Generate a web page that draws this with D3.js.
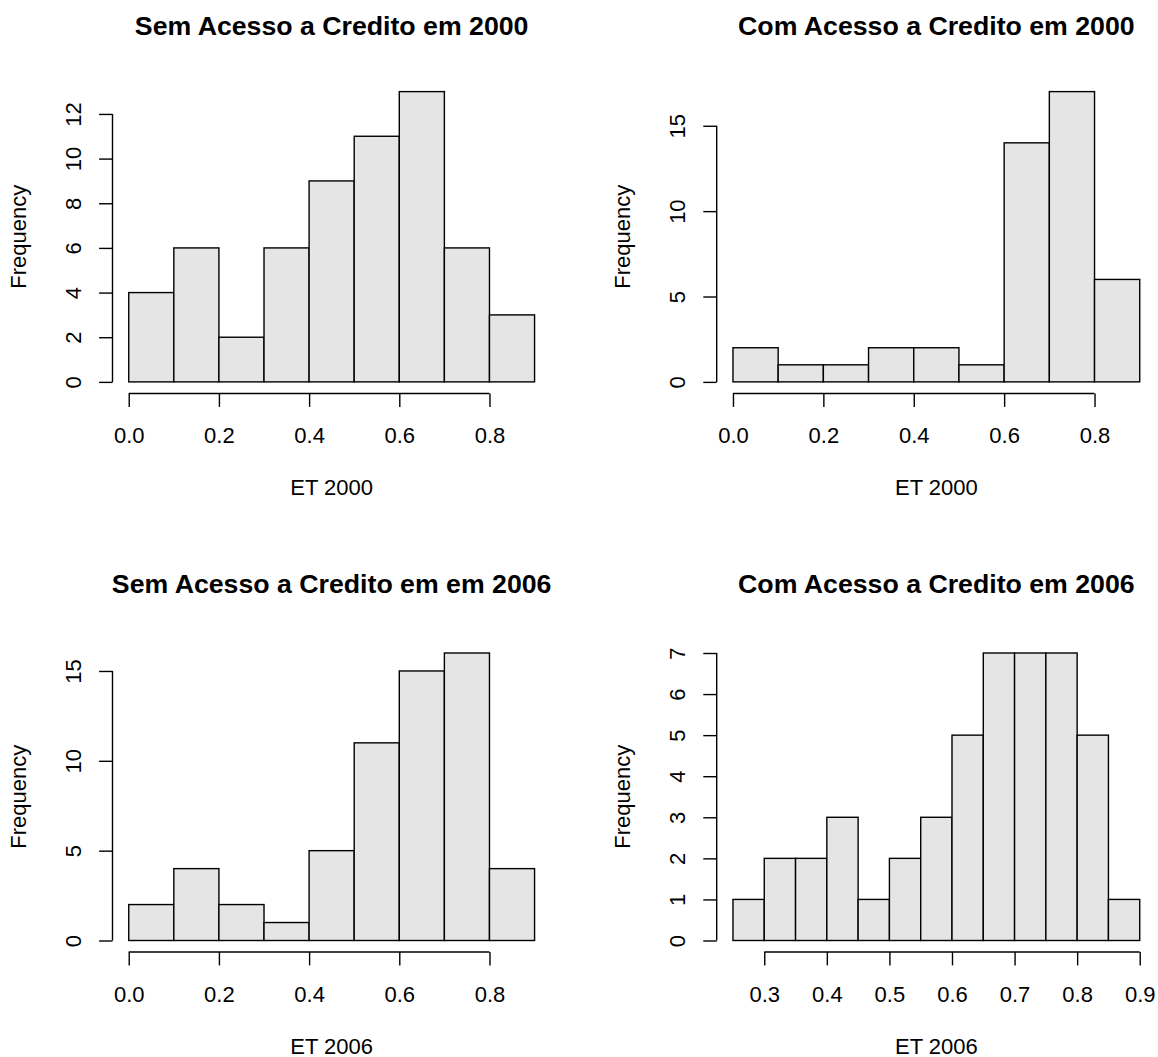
<!DOCTYPE html>
<html>
<head>
<meta charset="utf-8">
<script src="https://cdn.jsdelivr.net/npm/d3@7"></script>
<style>
  body { margin: 0; background: #fff; }
  svg { display: block; font-family: "Liberation Sans", Arial, sans-serif; }
</style>
</head>
<body>
<div id="chart"></div>
<script>
// Histogram data
var titles = [
    "Sem Acesso a Credito em 2000",
    "Com Acesso a Credito em 2000",
    "Sem Acesso a Credito em em 2006",
    "Com Acesso a Credito em 2006"
];
var xLabels = ["ET 2000", "ET 2000", "ET 2006", "ET 2006"];

// bin edges
var breaks2000 = [0, 0.1, 0.2, 0.3, 0.4, 0.5, 0.6, 0.7, 0.8, 0.9];
var breaksCom2006 = [0.25, 0.3, 0.35, 0.4, 0.45, 0.5, 0.55, 0.6, 0.65, 0.7, 0.75, 0.8, 0.85, 0.9];

// counts
var semCredito2000 = [4, 6, 2, 6, 9, 11, 13, 6, 3];
var comCredito2000 = [2, 1, 1, 2, 2, 1, 14, 17, 6];
var semCredito2006 = [2, 4, 2, 1, 5, 11, 15, 16, 4];
var comCredito2006 = [1, 2, 2, 3, 1, 2, 3, 5, 7, 7, 7, 5, 1];

// tick values
var xTicks2000 = [0, 0.2, 0.4, 0.6, 0.8];
var xTicksCom2006 = [0.3, 0.4, 0.5, 0.6, 0.7, 0.8, 0.9];
var yTicksSem2000 = [0, 2, 4, 6, 8, 10, 12];
var yTicks15 = [0, 5, 10, 15];
var yTicksCom2006 = [0, 1, 2, 3, 4, 5, 6, 7];

var width = 1158, height = 1057;

// plot regions (pixel boxes of each panel)
var panels = [
    { breaks: breaks2000, counts: semCredito2000, xt: xTicks2000, yt: yTicksSem2000, left: 112.5, right: 550.8, top: 80, bottom: 393.5, titleY: 35 },
    { breaks: breaks2000, counts: comCredito2000, xt: xTicks2000, yt: yTicks15, left: 716.7, right: 1156, top: 80, bottom: 393.5, titleY: 35 },
    { breaks: breaks2000, counts: semCredito2006, xt: xTicks2000, yt: yTicks15, left: 112.5, right: 550.8, top: 641.5, bottom: 952, titleY: 593 },
    { breaks: breaksCom2006, counts: comCredito2006, xt: xTicksCom2006, yt: yTicksCom2006, left: 716.7, right: 1156, top: 641.5, bottom: 952, titleY: 593 }
];

var svg = d3.select("#chart")
    .append("svg")
    .attr("width", width)
    .attr("height", height);

var tickFont = 22, titleFont = 26.7, tickLen = 13.4;

panels.forEach(function(p, i) {
    var bins = p.counts.map(function(c, j) {
        return { x0: p.breaks[j], x1: p.breaks[j + 1], n: c };
    });

    // R style 4% padding on both axes
    var xMin = p.breaks[0], xMax = p.breaks[p.breaks.length - 1];
    var xPad = (xMax - xMin) * 0.04;
    var yMax = d3.max(p.counts), yPad = yMax * 0.04;

    var x = d3.scaleLinear()
        .domain([xMin - xPad, xMax + xPad])
        .range([p.left, p.right]);

    var y = d3.scaleLinear()
        .domain([-yPad, yMax + yPad])
        .range([p.bottom, p.top]);

    var g = svg.append("g");

    // bars
    g.selectAll("rect")
        .data(bins)
        .enter().append("rect")
        .attr("x", d => x(d.x0))
        .attr("y", d => y(d.n))
        .attr("width", d => x(d.x1) - x(d.x0))
        .attr("height", d => y(0) - y(d.n))
        .attr("fill", "#e5e5e5")
        .attr("stroke", "#000")
        .attr("stroke-width", 1.4);

    // x axis, line only between first and last tick like R
    var xAxis = g.append("g")
        .attr("transform", `translate(0,${p.bottom})`)
        .call(d3.axisBottom(x).tickValues(p.xt).tickSize(tickLen).tickPadding(20.6)
            .tickFormat(d3.format(".1f")));
    xAxis.select(".domain")
        .attr("d", `M${x(p.xt[0])},0H${x(p.xt[p.xt.length - 1])}`);

    // y axis
    var yAxis = g.append("g")
        .attr("transform", `translate(${p.left},0)`)
        .call(d3.axisLeft(y).tickValues(p.yt).tickSize(tickLen).tickFormat(d3.format("d")));
    yAxis.select(".domain")
        .attr("d", `M0,${y(p.yt[0])}V${y(p.yt[p.yt.length - 1])}`);
    yAxis.selectAll("text")
        .attr("x", null).attr("dy", null)
        .attr("transform", "translate(-31.7,0) rotate(-90)")
        .style("text-anchor", "middle");

    [xAxis, yAxis].forEach(function(a) {
        a.selectAll(".domain, line").attr("stroke", "#000").attr("stroke-width", 1.4);
        a.selectAll("text").attr("fill", "#000").style("font-size", tickFont + "px")
            .style("font-family", "'Liberation Sans', Arial, sans-serif");
    });

    var cx = (p.left + p.right) / 2, cy = (p.top + p.bottom) / 2;

    // title
    g.append("text")
        .attr("x", cx)
        .attr("y", p.titleY)
        .attr("text-anchor", "middle")
        .style("font-weight", "bold")
        .style("font-size", titleFont + "px")
        .text(titles[i]);

    // axis titles
    g.append("text")
        .attr("x", cx)
        .attr("y", p.bottom + 101.5)
        .attr("text-anchor", "middle")
        .style("font-size", tickFont + "px")
        .text(xLabels[i]);

    g.append("text")
        .attr("transform", `translate(${p.left - 86.8},${cy}) rotate(-90)`)
        .attr("text-anchor", "middle")
        .style("font-size", tickFont + "px")
        .text("Frequency");
});
</script>
</body>
</html>
